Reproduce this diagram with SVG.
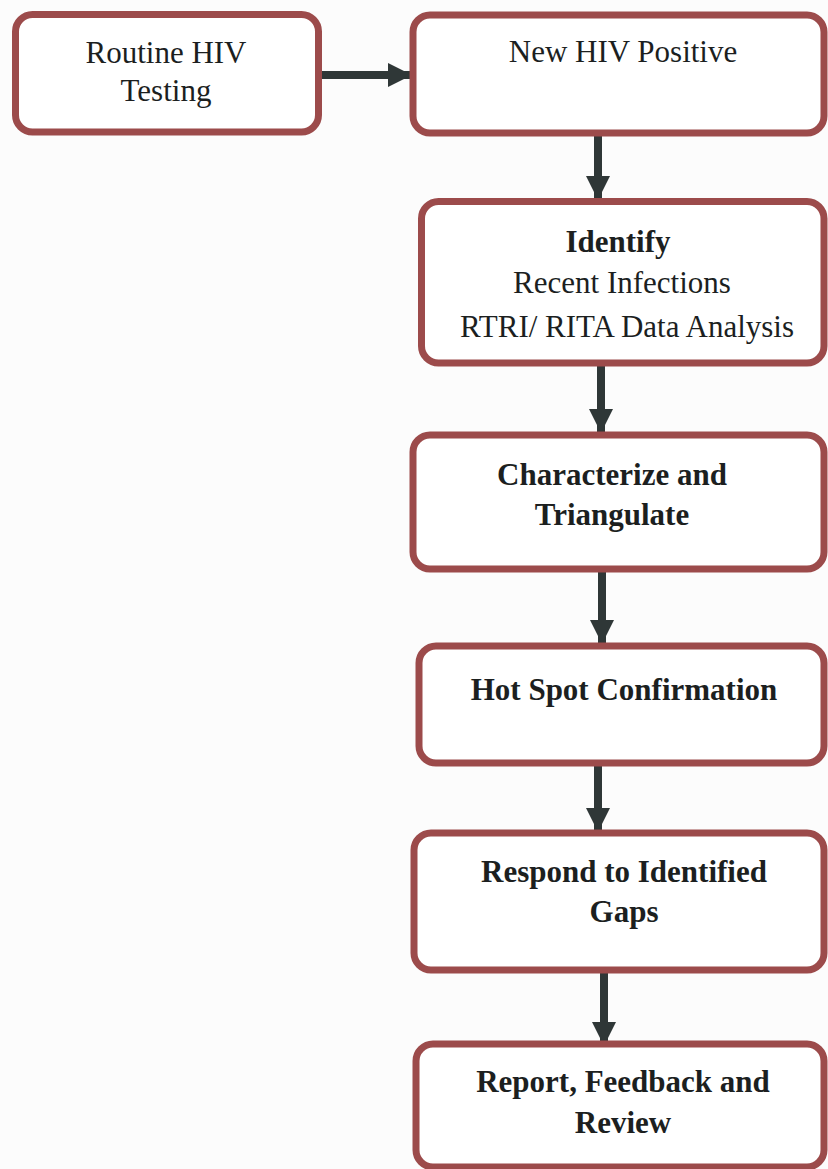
<svg xmlns="http://www.w3.org/2000/svg" width="828" height="1169" viewBox="0 0 828 1169">
<defs>
<style>
.box{fill:#ffffff;stroke:#9c4b4b;stroke-width:7}
.t{font-family:"Liberation Serif","Times New Roman",serif;font-size:31px;fill:#1c1f1f;text-anchor:middle}
.b{font-weight:bold}
.arr{stroke:#2f3737;stroke-width:8;fill:none}
</style>
<marker id="ah" markerUnits="userSpaceOnUse" markerWidth="24" markerHeight="24" viewBox="0 0 24 24" refX="24" refY="12" orient="auto">
<path d="M0,0 L24,12 L0,24 Z" fill="#2f3737"/>
</marker>
</defs>
<rect width="828" height="1169" fill="#fcfcfc"/>
<g id="connectors">
<line class="arr" x1="322" y1="75" x2="412" y2="75" marker-end="url(#ah)"/>
<line class="arr" x1="598" y1="135" x2="598" y2="200" marker-end="url(#ah)"/>
<line class="arr" x1="601" y1="366" x2="601" y2="433" marker-end="url(#ah)"/>
<line class="arr" x1="602" y1="572" x2="602" y2="644" marker-end="url(#ah)"/>
<line class="arr" x1="598" y1="766" x2="598" y2="832" marker-end="url(#ah)"/>
<line class="arr" x1="604" y1="973" x2="604" y2="1046" marker-end="url(#ah)"/>
</g>
<g id="routine-hiv-testing">
<rect class="box" x="15.5" y="14.5" width="303" height="117.5" rx="17"/>
<text class="t" x="166" y="63">Routine HIV</text>
<text class="t" x="166" y="101">Testing</text>
</g>
<g id="new-hiv-positive">
<rect class="box" x="413" y="15" width="411" height="118" rx="17"/>
<text class="t" x="623" y="62">New HIV Positive</text>
</g>
<g id="identify">
<rect class="box" x="421.5" y="201.5" width="402.5" height="161.5" rx="17"/>
<text class="t b" x="618" y="252">Identify</text>
<text class="t" x="622" y="293">Recent Infections</text>
<text class="t" x="627" y="337">RTRI/ RITA Data Analysis</text>
</g>
<g id="characterize">
<rect class="box" x="413" y="435" width="411" height="134" rx="17"/>
<text class="t b" x="612" y="485">Characterize and</text>
<text class="t b" x="612" y="525">Triangulate</text>
</g>
<g id="hot-spot">
<rect class="box" x="419" y="646" width="405" height="117" rx="17"/>
<text class="t b" x="624" y="700">Hot Spot Confirmation</text>
</g>
<g id="respond">
<rect class="box" x="414" y="833" width="410" height="137" rx="17"/>
<text class="t b" x="624" y="882">Respond to Identified</text>
<text class="t b" x="624" y="922">Gaps</text>
</g>
<g id="report">
<rect class="box" x="416" y="1044" width="408" height="123" rx="17"/>
<text class="t b" x="623" y="1092">Report, Feedback and</text>
<text class="t b" x="623" y="1133">Review</text>
</g>
</svg>
